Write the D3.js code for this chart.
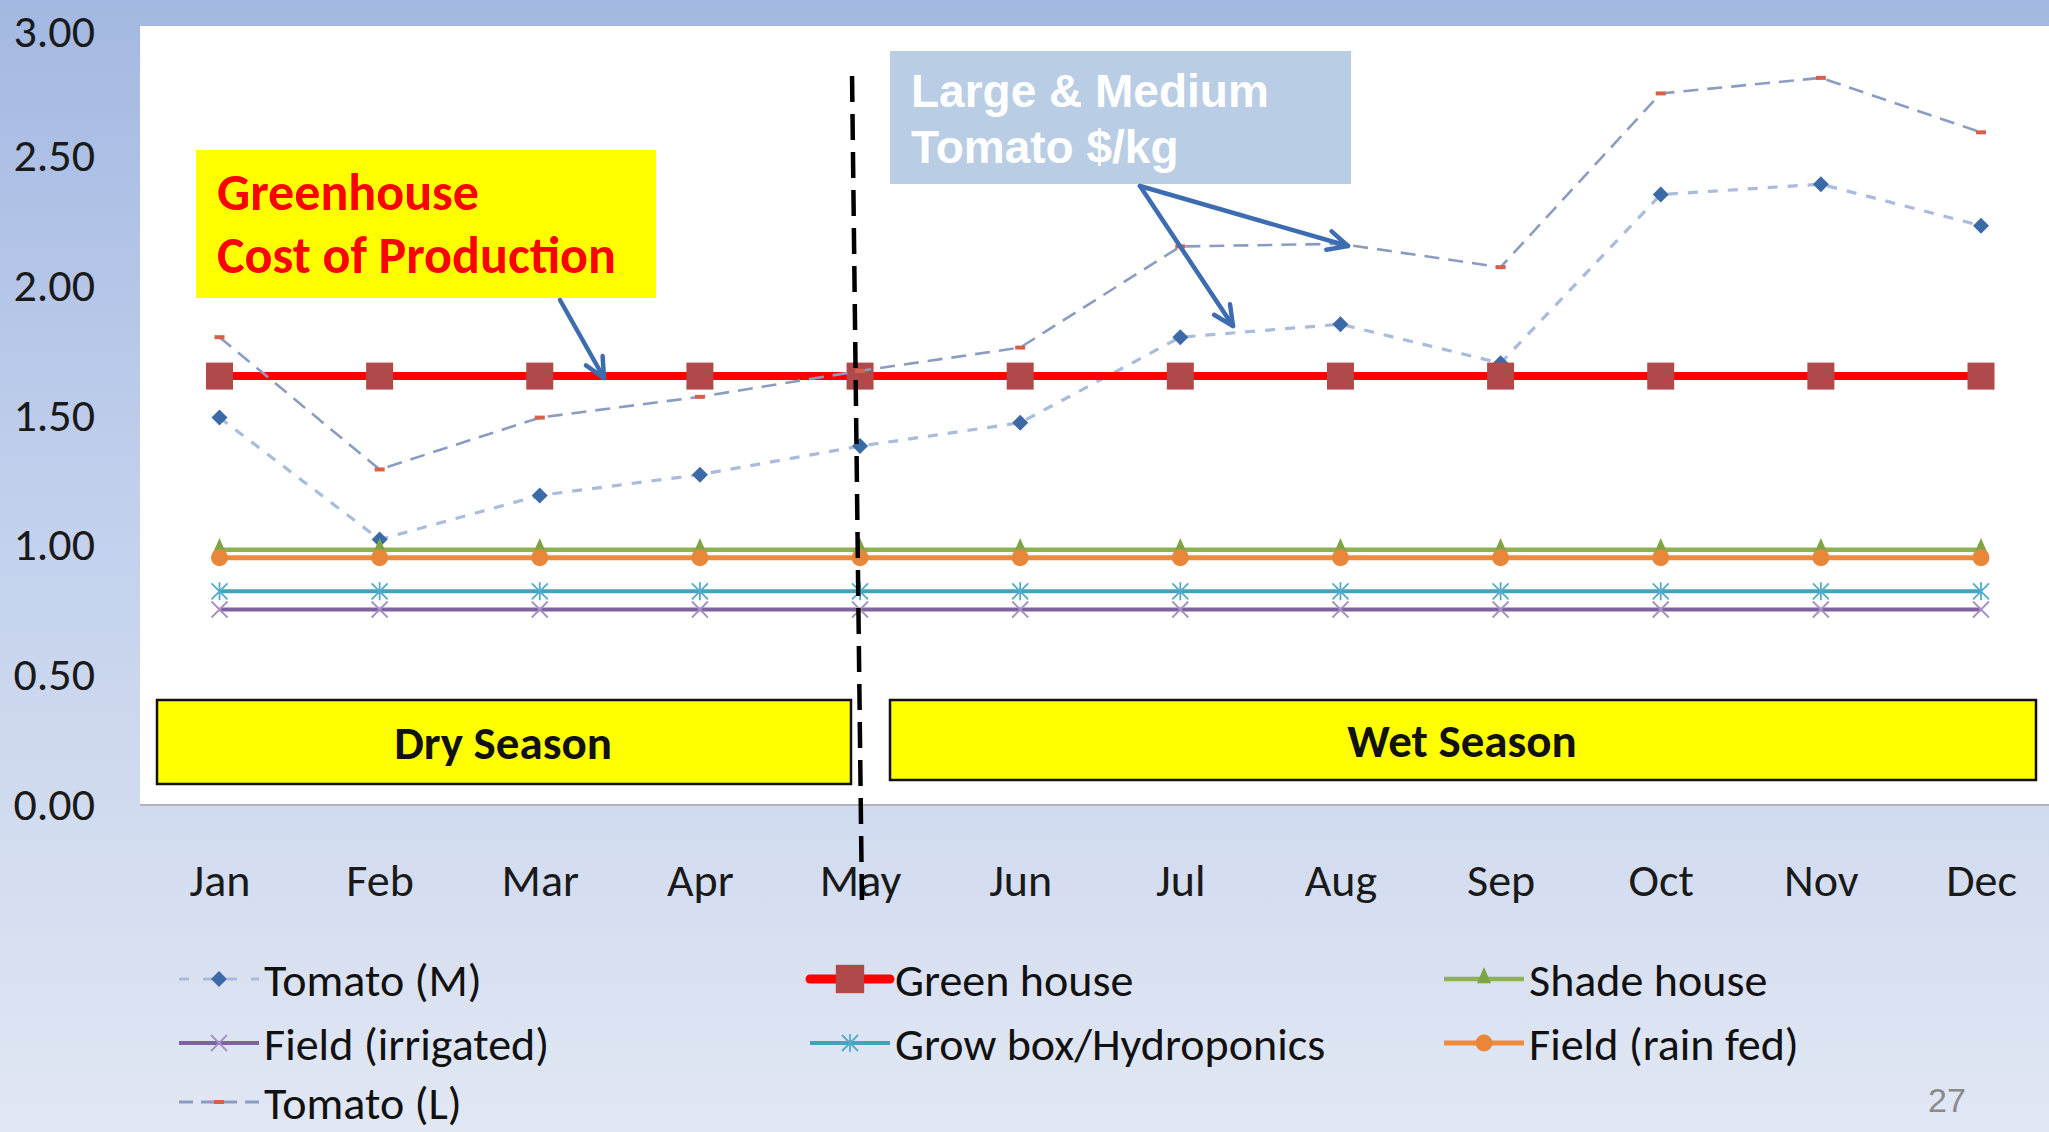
<!DOCTYPE html>
<html>
<head>
<meta charset="utf-8">
<script src="https://cdn.jsdelivr.net/npm/d3@7"></script>
<style>
  html, body { margin: 0; padding: 0; background: #fff; }
  svg { display: block; }
</style>
</head>
<body>
<svg id="chart" width="2049" height="1132"></svg>
<script>
// ---------- DATA ----------
const months = ["Jan","Feb","Mar","Apr","May","Jun","Jul","Aug","Sep","Oct","Nov","Dec"];
const tomatoM = [1.49, 1.02, 1.19, 1.27, 1.38, 1.47, 1.80, 1.85, 1.70, 2.35, 2.39, 2.23];
const greenHouse = [1.65, 1.65, 1.65, 1.65, 1.65, 1.65, 1.65, 1.65, 1.65, 1.65, 1.65, 1.65];
const shadeHouse = [0.98, 0.98, 0.98, 0.98, 0.98, 0.98, 0.98, 0.98, 0.98, 0.98, 0.98, 0.98];
const fieldIrrigated = [0.75, 0.75, 0.75, 0.75, 0.75, 0.75, 0.75, 0.75, 0.75, 0.75, 0.75, 0.75];
const growBox = [0.82, 0.82, 0.82, 0.82, 0.82, 0.82, 0.82, 0.82, 0.82, 0.82, 0.82, 0.82];
const fieldRainFed = [0.95, 0.95, 0.95, 0.95, 0.95, 0.95, 0.95, 0.95, 0.95, 0.95, 0.95, 0.95];
const tomatoL = [1.80, 1.29, 1.49, 1.57, 1.67, 1.76, 2.15, 2.16, 2.07, 2.74, 2.80, 2.59];
const yTicks = [0, 0.5, 1, 1.5, 2, 2.5, 3];
const seriesNames = ["Tomato (M)", "Green house", "Shade house", "Field (irrigated)", "Grow box/Hydroponics", "Field (rain fed)", "Tomato (L)"];
const seriesValues = [tomatoM, greenHouse, shadeHouse, fieldIrrigated, growBox, fieldRainFed, tomatoL];
const noteGreenhouse = ["Greenhouse", "Cost of Production"];
const noteTomato = ["Large & Medium", "Tomato $/kg"];
const seasonLabels = ["Dry Season", "Wet Season"];
const pageNumber = "27";

// ---------- STYLES ----------
const styles = [
  {color:"#a9bcdb", width:3.2, dash:"10,10", marker:"diamond", mcolor:"#3c6aa6"},
  {color:"#ff0000", width:8, dash:null, marker:"square", mcolor:"#b0494a"},
  {color:"#8fb150", width:4.5, dash:null, marker:"triangle", mcolor:"#7fa446"},
  {color:"#7d62a0", width:4, dash:null, marker:"x", mcolor:"#a591c4"},
  {color:"#44a2bb", width:4, dash:null, marker:"asterisk", mcolor:"#52acc8"},
  {color:"#ee8a3c", width:5, dash:null, marker:"circle", mcolor:"#e8873a"},
  {color:"#8a9dc0", width:2.6, dash:"15,9", marker:"dash", mcolor:"#d7604a"}
];

const W = 2049, H = 1132;
const svg = d3.select("#chart");
const FONT = "Carlito, Calibri, Lato, 'Open Sans', sans-serif";
const FS = 46;

// background gradient
const defs = svg.append("defs");
const bg = defs.append("linearGradient").attr("id","bg").attr("x1",0).attr("y1",0).attr("x2",0).attr("y2",1);
bg.append("stop").attr("offset","0%").attr("stop-color","#a3b8e2");
bg.append("stop").attr("offset","45%").attr("stop-color","#c2d0ec");
bg.append("stop").attr("offset","100%").attr("stop-color","#e1e7f3");
svg.append("rect").attr("width",W).attr("height",H).attr("fill","url(#bg)");

// scales
const plotLeft = 140, plotTop = 26, plotBottom = 804;
const x = d3.scalePoint().domain(months).range([219.5, 1981]);
const y = d3.scaleLinear().domain([0,3]).range([plotBottom, plotTop]);

// plot area
svg.append("rect").attr("x",plotLeft).attr("y",plotTop).attr("width",W-plotLeft+10).attr("height",plotBottom-plotTop)
  .attr("fill","#ffffff");
svg.append("line").attr("x1",plotLeft).attr("x2",W).attr("y1",plotBottom+1).attr("y2",plotBottom+1)
  .attr("stroke","#a6a6a6").attr("stroke-width",1.5);

// y axis
const yAxis = d3.axisLeft(y).tickValues(yTicks).tickFormat(d3.format(".2f")).tickSize(0).tickPadding(0);
const yg = svg.append("g").attr("transform","translate(95,0)").call(yAxis);
yg.select(".domain").remove();
yg.selectAll("text").attr("font-family",FONT).attr("font-size",FS).attr("fill","#1a1a1a")
  .attr("dy", d => d === 3 ? "0.45em" : "0.33em");

// x axis
const xAxis = d3.axisBottom(x).tickSize(0).tickPadding(0);
const xg = svg.append("g").attr("transform","translate(0,896)").call(xAxis);
xg.select(".domain").remove();
xg.selectAll("text").attr("font-family",FONT).attr("font-size",FS).attr("fill","#1a1a1a").attr("dy","0");

// season boxes (annotations)
const seasonBoxes = [
  {x0:157, x1:851, y0:700, y1:784, tx:503, ty:759},
  {x0:890, x1:2036, y0:700, y1:780, tx:1462, ty:757}
];
seasonBoxes.forEach((b,i)=>{
  svg.append("rect").attr("x",b.x0).attr("y",b.y0).attr("width",b.x1-b.x0).attr("height",b.y1-b.y0)
    .attr("fill","#ffff00").attr("stroke","#111").attr("stroke-width",2.5);
  svg.append("text").attr("x",b.tx).attr("y",b.ty).attr("text-anchor","middle")
    .attr("font-family",FONT).attr("font-weight","bold").attr("font-size",47).attr("fill","#111")
    .text(seasonLabels[i]);
});

// marker drawing
function drawMarker(g, type, cx, cy, color, scale) {
  scale = scale || 1;
  if (type === "diamond") {
    const s = 8*scale;
    g.append("path").attr("d",`M${cx},${cy-s}L${cx+s},${cy}L${cx},${cy+s}L${cx-s},${cy}Z`).attr("fill",color);
  } else if (type === "square") {
    const s = 13.5*scale;
    g.append("rect").attr("x",cx-s).attr("y",cy-s).attr("width",2*s).attr("height",2*s).attr("fill",color);
  } else if (type === "triangle") {
    const s = 7*scale;
    g.append("path").attr("d",`M${cx},${cy-s*1.7}L${cx+s},${cy+s*0.6}L${cx-s},${cy+s*0.6}Z`).attr("fill",color);
  } else if (type === "circle") {
    g.append("circle").attr("cx",cx).attr("cy",cy).attr("r",8.5*scale).attr("fill",color);
  } else if (type === "x") {
    const s = 8*scale;
    g.append("path").attr("d",`M${cx-s},${cy-s}L${cx+s},${cy+s}M${cx-s},${cy+s}L${cx+s},${cy-s}`)
      .attr("stroke",color).attr("stroke-width",1.8).attr("fill","none");
  } else if (type === "asterisk") {
    const s = 8*scale;
    g.append("path").attr("d",`M${cx-s},${cy-s}L${cx+s},${cy+s}M${cx-s},${cy+s}L${cx+s},${cy-s}M${cx},${cy-s-1}L${cx},${cy+s+1}`)
      .attr("stroke",color).attr("stroke-width",1.8).attr("fill","none");
  } else if (type === "dash") {
    g.append("rect").attr("x",cx-5*scale).attr("y",cy-2).attr("width",10*scale).attr("height",4).attr("fill",color);
  }
}

// series
const lineGen = d3.line().x((d,i)=>x(months[i])).y(d=>y(d));
seriesValues.forEach((vals,si)=>{
  const st = styles[si];
  const g = svg.append("g");
  g.append("path").datum(vals).attr("d",lineGen).attr("fill","none")
    .attr("stroke",st.color).attr("stroke-width",st.width)
    .attr("stroke-dasharray",st.dash).attr("stroke-linejoin","round");
  vals.forEach((v,i)=> drawMarker(g, st.marker, x(months[i]), y(v), st.mcolor, 1));
});

// vertical dashed separator (between dry and wet)
svg.append("line").attr("x1",x("May")-8).attr("y1",76).attr("x2",x("May")+2).attr("y2",911)
  .attr("stroke","#000").attr("stroke-width",4.5).attr("stroke-dasharray","26,12");

// arrow helper
function arrow(x1,y1,x2,y2){
  const g = svg.append("g").attr("stroke","#3d6db0").attr("stroke-width",4.5).attr("fill","none").attr("stroke-linecap","round");
  g.append("line").attr("x1",x1).attr("y1",y1).attr("x2",x2).attr("y2",y2);
  const a = Math.atan2(y2-y1,x2-x1), L = 22, sp = 0.45;
  g.append("path").attr("d",`M${x2-L*Math.cos(a-sp)},${y2-L*Math.sin(a-sp)}L${x2},${y2}L${x2-L*Math.cos(a+sp)},${y2-L*Math.sin(a+sp)}`)
    .attr("stroke-linejoin","round");
}

// Greenhouse note
svg.append("rect").attr("x",196).attr("y",150).attr("width",460).attr("height",148).attr("fill","#ffff00");
noteGreenhouse.forEach((t,i)=>{
  svg.append("text").attr("x",217).attr("y",210+i*63).attr("font-family",FONT).attr("font-weight","bold")
    .attr("font-size",52).attr("fill","#ff0000").text(t);
});
arrow(560,300,604,378);

// Tomato note
svg.append("rect").attr("x",890).attr("y",51).attr("width",461).attr("height",133).attr("fill","#b9cde5");
noteTomato.forEach((t,i)=>{
  svg.append("text").attr("x",911).attr("y",107+i*56).attr("font-family","'Liberation Sans', Arial, sans-serif")
    .attr("font-weight","bold").attr("font-size",46).attr("fill","#ffffff").text(t);
});
arrow(1140,186,1348,246);
arrow(1140,186,1233,326);

// legend
const legendPos = [
  {sx:179, tx:264, y:979}, {sx:810, tx:895, y:979}, {sx:1444, tx:1529, y:979},
  {sx:179, tx:264, y:1043}, {sx:810, tx:895, y:1043}, {sx:1444, tx:1529, y:1043},
  {sx:179, tx:264, y:1102}
];
seriesNames.forEach((name,i)=>{
  const p = legendPos[i], st = styles[i];
  const g = svg.append("g");
  const lw = i===1 ? 9 : (st.dash ? 3 : st.width);
  g.append("line").attr("x1",p.sx).attr("x2",p.sx+80).attr("y1",p.y).attr("y2",p.y)
    .attr("stroke",st.color).attr("stroke-width",lw).attr("stroke-linecap", i===1 ? "round" : "butt")
    .attr("stroke-dasharray", st.dash ? (i===0 ? "10,14" : "14,8") : null);
  drawMarker(g, st.marker, p.sx+40, p.y, st.mcolor, i===1 ? 1.05 : 1);
  svg.append("text").attr("x",p.tx).attr("y",p.y).attr("dy","0.36em").attr("font-family",FONT)
    .attr("font-size",FS).attr("fill","#111").text(name);
});

// page number
svg.append("text").attr("x",1947).attr("y",1112).attr("text-anchor","middle")
  .attr("font-family","'Liberation Sans Narrow', 'Arial Narrow', sans-serif").attr("font-size",34)
  .attr("fill","#8a8a8a").text(pageNumber);
</script>
</body>
</html>
